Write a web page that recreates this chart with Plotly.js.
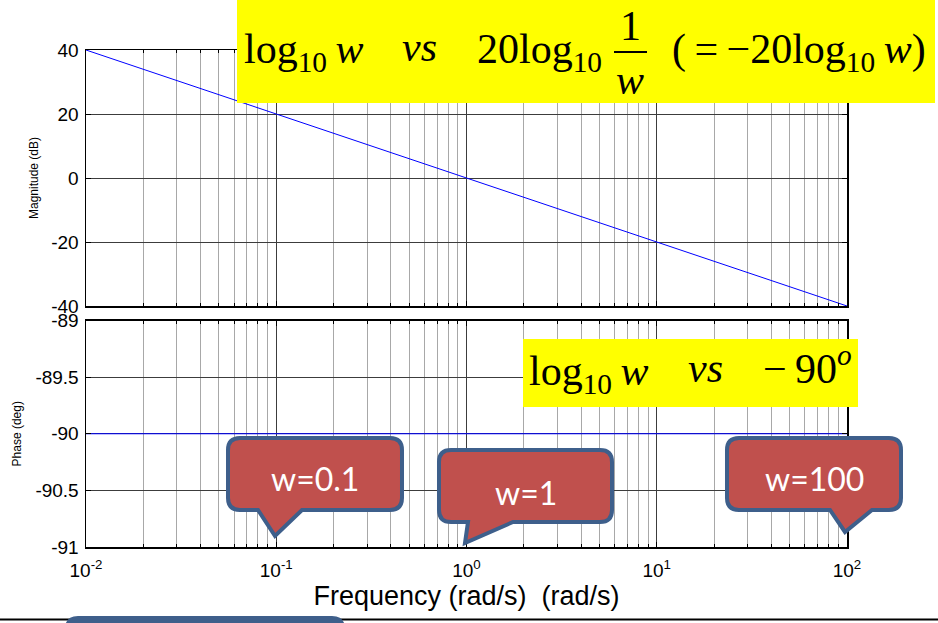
<!DOCTYPE html>
<html><head><meta charset="utf-8">
<script src="https://cdn.plot.ly/plotly-3.0.1.min.js"></script>
<style>html,body{margin:0;padding:0;background:#fff;}</style>
</head><body><div id="chart" style="width:938px;height:623px;"></div>
<script>
// ---- data ----
const freq = [0.01, 0.1, 1, 10, 100];
const magDb = [40, 20, 0, -20, -40];
const phaseDeg = [-90, -90, -90, -90, -90];
const xTickVals = [0.01, 0.1, 1, 10, 100];
const xTickText = ['10<sup>-2</sup>', '10<sup>-1</sup>', '10<sup>0</sup>', '10<sup>1</sup>', '10<sup>2</sup>'];
const magTicks = [-40, -20, 0, 20, 40];
const magTickText = ['-40', '-20', '0', '20', '40'];
const phaseTicks = [-91, -90.5, -90, -89.5, -89];
const phaseTickText = ['-91', '-90.5', '-90', '-89.5', '-89'];
const calloutLabels = ['w=0.1', 'w=1', 'w=100'];

// minor decade ticks 2..9
const minorVals = [];
[0.01, 0.1, 1, 10].forEach(d => { for (let k = 2; k <= 9; k++) minorVals.push(d * k); });

// ---- layout geometry ----
const FW = 938, FH = 623, ML = 86, MR = 91, MT = 50, MB = 76;
const PW = FW - ML - MR, PH = FH - MT - MB;
const px = x => (x - ML) / PW;
const py = y => (FH - MB - y) / PH;
const P = (x, y) => px(x).toFixed(5) + ',' + py(y).toFixed(5);

function callout(x0, y0, x1, y1, r, bx0, bx1, tx, ty) {
  return 'M' + P(x0 + r, y0) + ' L' + P(x1 - r, y0) + ' Q' + P(x1, y0) + ' ' + P(x1, y0 + r) +
    ' L' + P(x1, y1 - r) + ' Q' + P(x1, y1) + ' ' + P(x1 - r, y1) +
    ' L' + P(bx1, y1) + ' L' + P(tx, ty) + ' L' + P(bx0, y1) +
    ' L' + P(x0 + r, y1) + ' Q' + P(x0, y1) + ' ' + P(x0, y1 - r) +
    ' L' + P(x0, y0 + r) + ' Q' + P(x0, y0) + ' ' + P(x0 + r, y0) + ' Z';
}

const gridMajor = '#3c3c3c', gridMinor = '#a8a8a8';
const sans = 'Liberation Sans, Arial, sans-serif';
const tickFont = {family: sans, size: 19, color: '#000'};

function xAxis(anchor, labels) {
  return {
    type: 'log', range: [-2, 2], domain: [0, 1], anchor: anchor,
    tickmode: 'array', tickvals: xTickVals, ticktext: xTickText, showticklabels: labels,
    ticks: 'inside', ticklen: 5, tickcolor: '#000', mirror: 'ticks',
    showline: true, linecolor: '#000', linewidth: 1.5,
    showgrid: true, gridcolor: gridMajor, gridwidth: 1, zeroline: false,
    tickfont: tickFont, ticklabelstandoff: 6,
    minor: {tickmode: 'array', tickvals: minorVals, ticks: 'inside', ticklen: 3, tickcolor: '#000',
            showgrid: true, gridcolor: gridMinor, gridwidth: 1}
  };
}

const traces = [
  {x: freq, y: magDb, xaxis: 'x', yaxis: 'y', type: 'scatter', mode: 'lines',
   line: {color: '#0000ff', width: 1}, hoverinfo: 'skip', showlegend: false},
  {x: freq, y: phaseDeg, xaxis: 'x2', yaxis: 'y2', type: 'scatter', mode: 'lines',
   line: {color: '#0000ff', width: 1}, hoverinfo: 'skip', showlegend: false}
];

const x2 = xAxis('y2', true);
x2.title = {text: 'Frequency (rad/s)\u00a0\u00a0(rad/s)', font: {family: sans, size: 27, color: '#000'}, standoff: 1};

const layout = {
  width: FW, height: FH,
  margin: {l: ML, r: MR, t: MT, b: MB, pad: 0},
  paper_bgcolor: '#fff', plot_bgcolor: '#fff',
  showlegend: false,
  xaxis: xAxis('y', false),
  xaxis2: x2,
  yaxis: {
    domain: [py(306), 1], range: [-40, 40], anchor: 'x',
    tickmode: 'array', tickvals: magTicks, ticktext: magTickText, ticks: 'inside', ticklen: 5, tickcolor: '#000', mirror: 'ticks',
    showline: true, linecolor: '#000', linewidth: 1.5,
    showgrid: true, gridcolor: gridMajor, zeroline: false, tickfont: tickFont, ticklabelstandoff: 2,
    title: {text: 'Magnitude (dB)', font: {family: sans, size: 12, color: '#000'}, standoff: 10}
  },
  yaxis2: {
    domain: [0, py(320.5)], range: [-91, -89], anchor: 'x2',
    tickmode: 'array', tickvals: phaseTicks, ticktext: phaseTickText, ticks: 'inside', ticklen: 5, tickcolor: '#000', mirror: 'ticks',
    showline: true, linecolor: '#000', linewidth: 1.5,
    showgrid: true, gridcolor: gridMajor, zeroline: false, tickfont: tickFont, ticklabelstandoff: 2,
    title: {text: 'Phase (deg)', font: {family: sans, size: 12, color: '#000'}, standoff: 11}
  },
  shapes: [
    // yellow boxes
    {type: 'rect', xref: 'paper', yref: 'paper', x0: px(237), x1: px(935), y0: py(0), y1: py(103),
     fillcolor: '#ffff00', line: {width: 0}, layer: 'above'},
    {type: 'rect', xref: 'paper', yref: 'paper', x0: px(523), x1: px(858), y0: py(339), y1: py(407),
     fillcolor: '#ffff00', line: {width: 0}, layer: 'above'},
    // fraction bar
    {type: 'line', xref: 'paper', yref: 'paper', x0: px(614), x1: px(647), y0: py(52), y1: py(52),
     line: {color: '#000', width: 2}, layer: 'above'},
    // callouts
    {type: 'path', xref: 'paper', yref: 'paper', path: callout(228, 438, 402, 510, 12, 258, 302, 275, 536),
     fillcolor: '#c0504d', line: {color: '#3e5f8b', width: 4}, layer: 'above'},
    {type: 'path', xref: 'paper', yref: 'paper', path: callout(439, 450, 612, 522, 12, 468, 513, 465, 543),
     fillcolor: '#c0504d', line: {color: '#3e5f8b', width: 4}, layer: 'above'},
    {type: 'path', xref: 'paper', yref: 'paper', path: callout(727, 438, 901, 510, 12, 830, 872, 845, 532),
     fillcolor: '#c0504d', line: {color: '#3e5f8b', width: 4}, layer: 'above'},
    // bottom rule and blue box
    {type: 'line', xref: 'paper', yref: 'paper', x0: px(0), x1: px(938), y0: py(619.5), y1: py(619.5),
     line: {color: '#000', width: 2}, layer: 'above'},
    {type: 'path', xref: 'paper', yref: 'paper', path: callout(66, 617, 344, 660, 12, 200, 200, 200, 660),
     fillcolor: '#3e5f8b', line: {color: '#3e5f8b', width: 2}, layer: 'above'}
  ],
  annotations: []
};

const serif = {family: 'Liberation Serif, Times New Roman, serif', size: 42, color: '#000'};
function ann(text, x, y, xanchor, font) {
  layout.annotations.push({text: text, xref: 'paper', yref: 'paper', x: px(x), y: py(y),
    xanchor: xanchor, yanchor: 'middle', showarrow: false, font: font || serif});
}
const TS = '\u2009';
// top yellow box
ann('log<sub>10</sub>' + TS + '<i>w</i>', 242, 52, 'left');
ann('<i>vs</i>', 400, 47, 'left');
ann('20log<sub>10</sub>', 475, 52, 'left');
ann('1', 630, 26, 'center');
ann('<i>w</i>', 630, 80, 'center');
ann('(' + TS + '=' + TS + '\u221220log<sub>10</sub>' + TS + '<i>w</i>)', 670, 52, 'left');
// lower yellow box
ann('log<sub>10</sub>' + TS + '<i>w</i>', 527, 374, 'left');
ann('<i>vs</i>', 686, 368, 'left');
ann('\u2212' + TS + '90<sup><i>o</i></sup>', 761, 365, 'left');
// callout labels
const cFont = {family: 'Lato, Open Sans, sans-serif', size: 32, color: '#fff'};
ann(calloutLabels[0], 315, 478, 'center', cFont);
ann(calloutLabels[1], 526, 492, 'center', cFont);
ann(calloutLabels[2], 814, 478, 'center', cFont);

Plotly.newPlot('chart', traces, layout, {staticPlot: true, displayModeBar: false});
</script></body></html>
